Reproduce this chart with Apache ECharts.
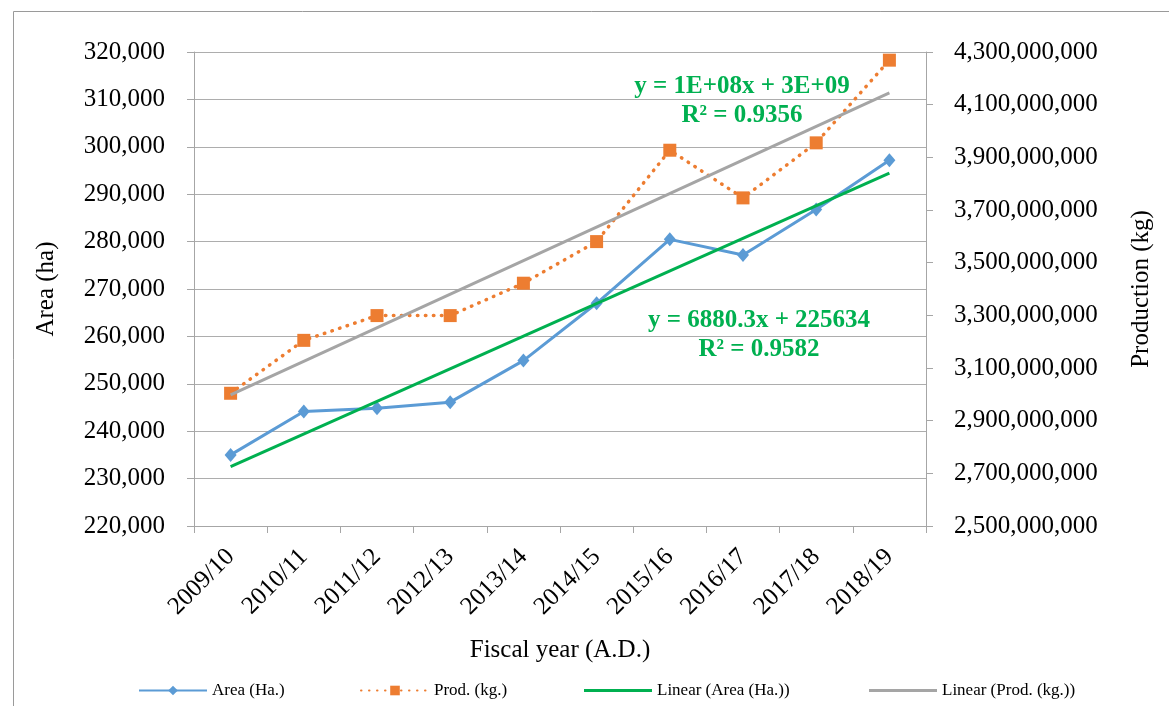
<!DOCTYPE html>
<html>
<head>
<meta charset="utf-8">
<script src="https://cdn.jsdelivr.net/npm/echarts@6/dist/echarts.min.js"></script>
<style>html,body{margin:0;padding:0;background:#fff}#c{width:1169px;height:706px}</style>
</head>
<body>
<div id="c"></div>
<script>
const categories = ['2009/10','2010/11','2011/12','2012/13','2013/14','2014/15','2015/16','2016/17','2017/18','2018/19'];
const areaHa = [235000, 244150, 244860, 246130, 254890, 266990, 280470, 277160, 286790, 297180];
const prodKg = [3004000000, 3205000000, 3299000000, 3299000000, 3422000000, 3580000000, 3927000000, 3746000000, 3955000000, 4269000000];
const areaTrendEnds = [232514, 294437];
const prodTrendEnds = [2998000000, 4145000000];
const leftTicks = {min: 220000, max: 320000, interval: 10000};
const rightTicks = {min: 2500000000, max: 4300000000, interval: 200000000};
const eqProd = ['y = 1E+08x + 3E+09', 'R² = 0.9356'];
const eqArea = ['y = 6880.3x + 225634', 'R² = 0.9582'];

function trendData(ends){
  const d = categories.map(() => null);
  d[0] = ends[0];
  d[d.length - 1] = ends[1];
  return d;
}
const fmt = v => v.toLocaleString('en-US');
const serif = 'Liberation Serif';
const axisGray = '#A6A6A6';
const green = '#00B050';

const chart = echarts.init(document.getElementById('c'), null, {renderer: 'canvas'});
const legendBase = {
  orient: 'horizontal', top: 677, itemWidth: 68, itemHeight: 12, itemGap: 6,
  textStyle: {fontFamily: serif, fontSize: 17, color: '#000'}
};
chart.setOption({
  animation: false,
  backgroundColor: '#fff',
  grid: {left: 194, right: 243, top: 52, bottom: 180, containLabel: false},
  legend: [
    Object.assign({}, legendBase, {left: 133, data: ['Area (Ha.)']}),
    Object.assign({}, legendBase, {left: 355, data: ['Prod. (kg.)']}),
    Object.assign({}, legendBase, {left: 579, itemHeight: 3, data: [{name: 'Linear (Area (Ha.))', icon: 'rect'}]}),
    Object.assign({}, legendBase, {left: 864, itemHeight: 3, data: [{name: 'Linear (Prod. (kg.))', icon: 'rect'}]})
  ],
  xAxis: {
    type: 'category', data: categories, boundaryGap: true,
    name: 'Fiscal year (A.D.)', nameLocation: 'middle', nameGap: 112,
    nameTextStyle: {fontFamily: serif, fontSize: 25, color: '#000'},
    axisLine: {show: true, lineStyle: {color: axisGray, width: 1}},
    axisTick: {show: true, alignWithLabel: false, length: 7, lineStyle: {color: axisGray}},
    axisLabel: {rotate: 45, margin: 27, fontFamily: serif, fontSize: 25, color: '#000'},
    splitLine: {show: false}
  },
  yAxis: [
    {
      type: 'value', position: 'left', min: leftTicks.min, max: leftTicks.max, interval: leftTicks.interval,
      name: 'Area (ha)', nameLocation: 'middle', nameGap: 135, nameRotate: 90,
      nameTextStyle: {fontFamily: serif, fontSize: 25, color: '#000'},
      axisLine: {show: true, lineStyle: {color: axisGray, width: 1}},
      axisTick: {show: true, inside: false, length: 7, lineStyle: {color: axisGray}},
      axisLabel: {margin: 29, fontFamily: serif, fontSize: 25, color: '#000', formatter: fmt},
      splitLine: {show: true, lineStyle: {color: '#ADADAD', width: 1}}
    },
    {
      type: 'value', position: 'right', min: rightTicks.min, max: rightTicks.max, interval: rightTicks.interval,
      name: 'Production (kg)', nameLocation: 'middle', nameGap: 203, nameRotate: 90,
      nameTextStyle: {fontFamily: serif, fontSize: 25, color: '#000'},
      axisLine: {show: true, lineStyle: {color: axisGray, width: 1}},
      axisTick: {show: true, inside: false, length: 7, lineStyle: {color: axisGray}},
      axisLabel: {margin: 28, fontFamily: serif, fontSize: 25, color: '#000', formatter: fmt},
      splitLine: {show: false}
    }
  ],
  series: [
    {
      name: 'Area (Ha.)', type: 'line', yAxisIndex: 0, data: areaHa,
      symbol: 'diamond', symbolSize: [12, 14], showAllSymbol: true,
      itemStyle: {color: '#5B9BD5'},
      lineStyle: {color: '#5B9BD5', width: 3}, z: 2
    },
    {
      name: 'Prod. (kg.)', type: 'line', yAxisIndex: 1, data: prodKg,
      symbol: 'rect', symbolSize: 13,
      itemStyle: {color: '#ED7D31'},
      lineStyle: {color: '#ED7D31', width: 3.5, type: [0.5, 7.5], cap: 'round'}, z: 2
    },
    {
      name: 'Linear (Area (Ha.))', type: 'line', yAxisIndex: 0, data: trendData(areaTrendEnds),
      connectNulls: true, symbol: 'none', itemStyle: {color: green},
      lineStyle: {color: green, width: 3}, z: 3
    },
    {
      name: 'Linear (Prod. (kg.))', type: 'line', yAxisIndex: 1, data: trendData(prodTrendEnds),
      connectNulls: true, symbol: 'none', itemStyle: {color: '#A5A5A5'},
      lineStyle: {color: '#A5A5A5', width: 3}, z: 3
    }
  ],
  graphic: [
    {type: 'rect', left: 11, top: 9, silent: true, z: -1,
     shape: {x: 0, y: 0, width: 1200, height: 760},
     style: {fill: 'none', stroke: '#9A9A9A', lineWidth: 1}},
    {type: 'text', x: 742, y: 87, z: 10, style: {text: eqProd[0], fill: green, font: 'bold 25px "Liberation Serif"', align: 'center', verticalAlign: 'middle'}},
    {type: 'text', x: 742, y: 116, z: 10, style: {text: eqProd[1], fill: green, font: 'bold 25px "Liberation Serif"', align: 'center', verticalAlign: 'middle'}},
    {type: 'text', x: 759, y: 321, z: 10, style: {text: eqArea[0], fill: green, font: 'bold 25px "Liberation Serif"', align: 'center', verticalAlign: 'middle'}},
    {type: 'text', x: 759, y: 350, z: 10, style: {text: eqArea[1], fill: green, font: 'bold 25px "Liberation Serif"', align: 'center', verticalAlign: 'middle'}}
  ]
});
</script>
</body>
</html>
